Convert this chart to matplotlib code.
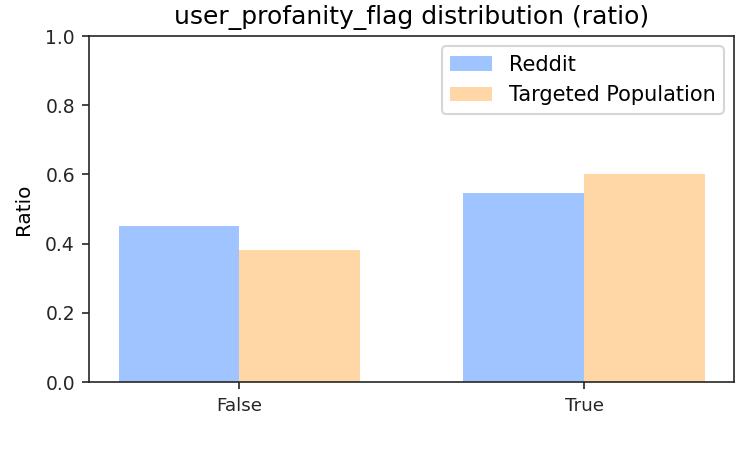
import numpy as np
import matplotlib.pyplot as plt

categories = ["False", "True"]
reddit = [0.451, 0.547]
targeted = [0.381, 0.601]

plt.rcParams['font.family'] = ['DejaVu Sans']
plt.rcParams['axes.edgecolor'] = '#262626'
plt.rcParams['xtick.color'] = '#262626'
plt.rcParams['ytick.color'] = '#262626'

# small figure saved at 150 dpi -> 750x450
fig = plt.figure(figsize=(5, 3), dpi=150)
ax = fig.add_axes([0.1193, 0.151, 0.8594, 0.769])

x = np.arange(len(categories))
width = 0.35
ax.bar(x - width / 2, reddit, width, color='#A0C4FF', label='Reddit')
ax.bar(x + width / 2, targeted, width, color='#FFD6A5', label='Targeted Population')

ax.set_xticks(x)
ax.set_xticklabels(categories, fontsize=8.8)
ax.tick_params(axis='y', labelsize=9)
ax.set_ylim(0, 1.0)
ax.set_yticks([0.0, 0.2, 0.4, 0.6, 0.8, 1.0])
ax.set_ylabel('Ratio', fontsize=9.6, labelpad=6)
ax.set_title('user_profanity_flag distribution (ratio)', fontsize=12)
ax.legend(fontsize=10, loc='upper right')

fig.savefig('out.png', dpi=150)
